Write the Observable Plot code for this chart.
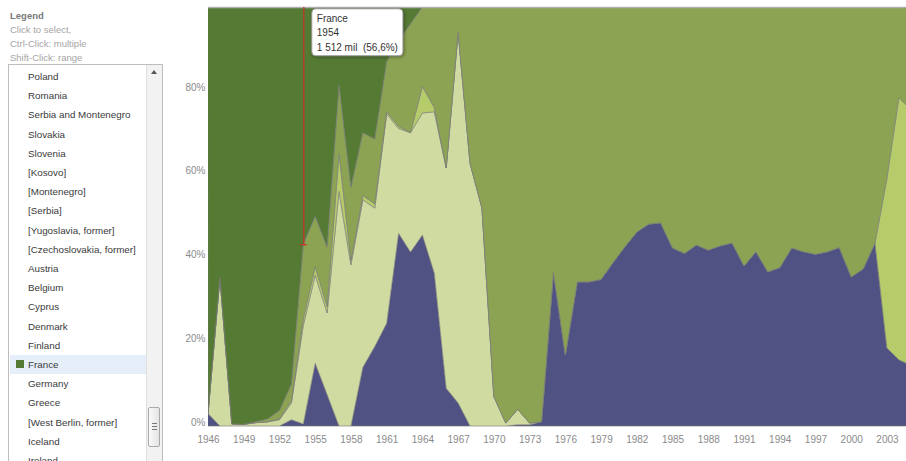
<!DOCTYPE html>
<html>
<head>
<meta charset="utf-8">
<script src="https://cdn.jsdelivr.net/npm/d3@7"></script>
<script src="https://cdn.jsdelivr.net/npm/@observablehq/plot@0.6"></script>
<style>
  html, body { margin: 0; padding: 0; background: #fff; width: 906px; height: 461px; overflow: hidden; }
  #wrap { position: relative; width: 906px; height: 461px; font-family: "Liberation Sans", Arial, sans-serif; }
  #chart { position: absolute; left: 0; top: 0; }
  #legendHead { position: absolute; left: 10px; top: 9px; font-size: 9.5px; line-height: 14px; color: #a5a5a5; }
  #legendHead b { color: #7a7a7a; }
  #listbox { position: absolute; left: 8px; top: 64px; width: 153px; height: 410px; border: 1px solid #bdbdbd; background: #fff; overflow: hidden; }
  .row { position: absolute; left: 1px; width: 137px; height: 19px; line-height: 19px; font-size: 9.8px; color: #3a3a3a; padding-left: 18px; box-sizing: border-box; white-space: nowrap; }
  .row.sel { background: #e6eef9; }
  .swatch { position: absolute; left: 6px; top: 5px; width: 8px; height: 8px; }
  #scroll { position: absolute; right: 0; top: 0; width: 15px; height: 100%; background: #f2f2f2; border-left: 1px solid #e0e0e0; }
  #up { position: absolute; left: 4px; top: 5px; width: 0; height: 0; border-left: 3px solid transparent; border-right: 3px solid transparent; border-bottom: 4px solid #555; }
  #thumb { position: absolute; left: 1px; top: 342px; width: 12px; height: 40px; border: 1px solid #a9a9a9; border-radius: 2px; background: linear-gradient(to right, #fafafa, #e4e4e4); box-sizing: border-box; }
  #thumb i { position: absolute; left: 3px; width: 5px; height: 1px; background: #777; }
</style>
</head>
<body>
<div id="wrap">
  <div id="chart"></div>
  <div id="legendHead"><b>Legend</b><br>Click to select,<br>Ctrl-Click: multiple<br>Shift-Click: range</div>
  <div id="listbox"><div id="scroll"><div id="up"></div><div id="thumb"><i style="top:15px"></i><i style="top:18px"></i><i style="top:21px"></i></div></div></div>
</div>
<script>
// ---------- data ----------
const years = [1946,1947,1948,1949,1950,1951,1952,1953,1954,1955,1956,1957,1958,1959,1960,1961,1962,1963,1964,1965,
  1966,1967,1968,1969,1970,1971,1972,1973,1974,1975,1976,1977,1978,1979,1980,1981,1982,1983,1984,1985,
  1986,1987,1988,1989,1990,1991,1992,1993,1994,1995,1996,1997,1998,1999,2000,2001,2002,2003,2004,2005];

const seriesNames = ["Series A", "Series B", "Series C", "Series D", "France"];
const seriesColors = ["#4f5282", "#cfdba0", "#b6cc6b", "#8ba352", "#557a34"];

// shares in percent, bottom layer first
const seriesA = [3,0,0,0,0,0,0,1.5,0.5,15,7.5,0,0,14,19,24.5,46,41.5,45.6,36.5,
  9,5.5,0,0,0,0,0.3,0.3,1,36.8,17,34.4,34.4,35,39,42.8,46.3,48.2,48.5,42.5,
  41.2,43.2,42,43,43.7,38.2,41.6,36.8,37.8,42.5,41.6,41,41.6,42.6,35.6,37.5,43.7,18.6,15.8,14.5];
const seriesB = [0,35.5,0.5,0.4,0.8,1,1.5,4,23.5,21,19.5,56,38.5,40,33,50,25,28.5,29.1,38.5,
  52.6,88.5,62.7,52,7,0.7,3.7,0.4,0,0,0,0,0,0,0,0,0,0,0,0,
  0,0,0,0,0,0,0,0,0,0,0,0,0,0,0,0,0,0,0,0];
const seriesC = [0,0,0,0,0,0,0.2,0.5,1.5,2,1.5,9,1,1,1,0.5,0.5,0,6.3,1,
  0,0,0,0,0,0,0,0,0,0,0,0,0,0,0,0,0,0,0,0,
  0,0,0,0,0,0,0,0,0,0,0,0,0,0,0,0,0,40.5,62.5,61];
const seriesD = [0,0,0,0,0.2,0.7,2,4,17.9,12,14.2,16.4,17.5,15,15.5,12,20.5,26,19,24,
  38.4,6,37.3,48,93,99.3,96,99.3,99,63.2,83,65.6,65.6,65,61,57.2,53.7,51.8,51.5,57.5,
  58.8,56.8,58,57,56.3,61.8,58.4,63.2,62.2,57.5,58.4,59,58.4,57.4,64.4,62.5,56.3,40.9,21.7,24.5];
const france = [97,64.5,99.5,99.6,99,98.3,96.3,90,56.6,50,57.3,18.6,43,30,31.5,13,8,4,0,0,
  0,0,0,0,0,0,0,0,0,0,0,0,0,0,0,0,0,0,0,0,
  0,0,0,0,0,0,0,0,0,0,0,0,0,0,0,0,0,0,0,0];

const xTicks = [1946,1949,1952,1955,1958,1961,1964,1967,1970,1973,1976,1979,1982,1985,1988,1991,1994,1997,2000,2003];
const yTicks = [0, 0.2, 0.4, 0.6, 0.8];

const tipSeries = "France";
const tipYear = 1954;
const tipAmount = "1 512 mil";

const legendItems = ["Poland","Romania","Serbia and Montenegro","Slovakia","Slovenia","[Kosovo]","[Montenegro]","[Serbia]",
  "[Yugoslavia, former]","[Czechoslovakia, former]","Austria","Belgium","Cyprus","Denmark","Finland","France",
  "Germany","Greece","[West Berlin, former]","Iceland","Ireland"];
const legendSelected = "France";

// ---------- build table ----------
const seriesValues = [seriesA, seriesB, seriesC, seriesD, france];
const data = seriesNames.flatMap((name, k) => years.map((year, i) => ({year, series: name, value: seriesValues[k][i]})));

const ti = years.indexOf(tipYear);
const total = seriesValues.reduce((s, arr) => s + arr[ti], 0);
const fIdx = seriesNames.indexOf(tipSeries);
const below = seriesValues.slice(0, fIdx).reduce((s, arr) => s + arr[ti], 0);
const tipLabel = `${tipSeries}\n${tipYear}\n${tipAmount}  (${(seriesValues[fIdx][ti] / total * 100).toFixed(1).replace(".", ",")}%)`;
const tip = {
  year: tipYear,
  bottom: below / total,
  top: (below + seriesValues[fIdx][ti]) / total,
  label: tipLabel
};

const chart = Plot.plot({
  width: 906,
  height: 461,
  marginLeft: 208,
  marginRight: 0,
  marginTop: 7,
  marginBottom: 35,
  style: {fontFamily: "Liberation Sans, Arial, sans-serif", fontSize: "10px", color: "#8a8a8a", background: "transparent"},
  x: {domain: [1946, 2004.6]},
  y: {domain: [0, 1]},
  color: {domain: seriesNames, range: seriesColors},
  marks: [
    Plot.areaY(data, Plot.stackY({offset: "normalize", order: seriesNames},
      {x: "year", y: "value", z: "series", fill: "series", stroke: "#7b7b7b", strokeWidth: 0.8, strokeOpacity: 0.75, clip: true})),
    Plot.ruleY([1], {stroke: "#b0b0b0", strokeWidth: 1.5}),
    Plot.ruleY([0], {stroke: "#d2d2d2"}),
    Plot.axisX({ticks: xTicks, tickFormat: d => `${d}`, tickSize: 0, tickPadding: 9, label: null, fill: "#8a8a8a"}),
    Plot.axisY({ticks: yTicks, tickFormat: d3.format(".0%"), tickSize: 0, tickPadding: 3, dy: -4, label: null, fill: "#8a8a8a"}),
    Plot.ruleX([tip], {x: "year", y1: "bottom", y2: "top", stroke: "#c0392b", strokeWidth: 1.3}),
    Plot.ruleY([tip], {y: "bottom", x1: d => d.year - 0.3, x2: d => d.year + 0.3, stroke: "#c0392b", strokeWidth: 1.3}),
    Plot.text([tip], {x: "year", y: "top", text: "label", dx: 13, dy: 4, textAnchor: "start", lineAnchor: "top",
      lineHeight: 1.45, fill: "#333", fontSize: 10})
  ]
});
document.getElementById("chart").appendChild(chart);

// tooltip frame behind the tooltip text
const tipText = Array.from(chart.querySelectorAll("text")).find(t => t.textContent.startsWith(tipSeries + tipYear) || t.textContent.startsWith(tipSeries));
if (tipText) {
  const bb = tipText.getBBox();
  const r = document.createElementNS("http://www.w3.org/2000/svg", "rect");
  r.setAttribute("x", bb.x - 5);
  r.setAttribute("y", bb.y - 4);
  r.setAttribute("width", bb.width + 10);
  r.setAttribute("height", bb.height + 7);
  r.setAttribute("rx", 4);
  r.setAttribute("fill", "#fff");
  r.setAttribute("stroke", "#9a9a9a");
  r.setAttribute("style", "filter: drop-shadow(1px 1px 1.5px rgba(0,0,0,0.35))");
  const tr = tipText.getAttribute("transform");
  if (tr) r.setAttribute("transform", tr);
  tipText.parentNode.insertBefore(r, tipText);
}

// legend list
const box = document.getElementById("listbox");
legendItems.forEach((name, i) => {
  const d = document.createElement("div");
  d.className = "row" + (name === legendSelected ? " sel" : "");
  d.style.top = (2 + i * 19.2) + "px";
  d.textContent = name;
  if (name === legendSelected) {
    const sw = document.createElement("span");
    sw.className = "swatch";
    sw.style.background = seriesColors[seriesNames.indexOf(name)];
    d.appendChild(sw);
  }
  box.insertBefore(d, box.firstChild);
});
</script>
</body>
</html>
